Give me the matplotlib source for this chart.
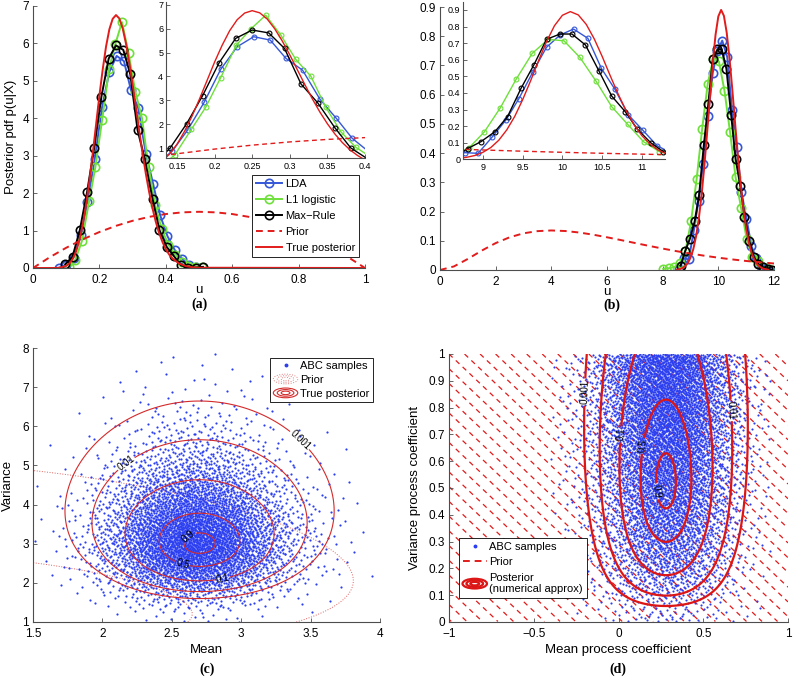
import numpy as np
import matplotlib
matplotlib.use("Agg")
import matplotlib.pyplot as plt
from matplotlib.lines import Line2D
from matplotlib.patches import Ellipse
from matplotlib.legend_handler import HandlerBase
from matplotlib.ticker import FuncFormatter, MultipleLocator

plt.rcParams['font.family'] = ['Liberation Sans', 'DejaVu Sans']
plt.rcParams['lines.dashed_pattern'] = [3.5, 2.5]

# ---------------- panel (a): posterior of u
a_lda_u = [0.079, 0.100, 0.122, 0.144, 0.164, 0.186, 0.208, 0.230, 0.252, 0.274, 0.295,
           0.317, 0.340, 0.362, 0.383, 0.405, 0.427, 0.449, 0.470, 0.492]
a_lda_p = [0.01, 0.08, 0.28, 0.89, 1.75, 2.91, 4.29, 5.24, 5.66, 5.52, 4.75,
           4.26, 3.05, 2.24, 1.41, 0.85, 0.48, 0.25, 0.07, 0.03]
a_l1_u = [0.107, 0.127, 0.147, 0.169, 0.188, 0.208, 0.229, 0.248, 0.268, 0.288, 0.308,
          0.328, 0.348, 0.368, 0.388, 0.408, 0.428, 0.448, 0.468, 0.488, 0.508]
a_l1_p = [0.02, 0.21, 0.71, 1.78, 2.70, 3.94, 5.31, 5.98, 6.56, 5.73, 4.71,
          4.01, 2.70, 1.68, 1.03, 0.62, 0.36, 0.17, 0.06, 0.04, 0.03]
a_max_u = [0.097, 0.119, 0.141, 0.163, 0.184, 0.206, 0.228, 0.250, 0.272, 0.293,
           0.315, 0.337, 0.360, 0.381, 0.403, 0.425, 0.446, 0.468, 0.490, 0.512]
a_max_p = [0.10, 0.30, 1.01, 2.03, 3.19, 4.57, 5.59, 5.94, 5.82, 5.17,
           3.68, 2.90, 1.85, 1.01, 0.56, 0.31, 0.07, 0.01, 0.01, 0.03]
a_prior_u = [0, 0.05, 0.1, 0.15, 0.2, 0.25, 0.3, 0.35, 0.4, 0.45, 0.5,
             0.55, 0.6, 0.65, 0.7, 0.75, 0.8, 0.85, 0.9, 0.95, 1.0]
a_prior_p = [0, 0.285, 0.54, 0.765, 0.96, 1.125, 1.26, 1.365, 1.44, 1.485, 1.5,
             1.485, 1.44, 1.365, 1.26, 1.125, 0.96, 0.765, 0.54, 0.285, 0]
a_true_u = [0, 0.06, 0.08, 0.10, 0.11, 0.12, 0.13, 0.14, 0.15, 0.16, 0.17, 0.18, 0.19,
            0.20, 0.21, 0.22, 0.23, 0.24, 0.25, 0.26, 0.27, 0.28, 0.29, 0.30, 0.31,
            0.32, 0.33, 0.34, 0.35, 0.36, 0.37, 0.38, 0.39, 0.40, 0.41, 0.42, 0.44,
            0.46, 0.48, 0.50, 1.0]
a_true_p = [0, 0.0004, 0.007, 0.056, 0.124, 0.246, 0.448, 0.748, 1.161, 1.70, 2.336,
            3.06, 3.83, 4.60, 5.30, 5.91, 6.37, 6.65, 6.75, 6.66, 6.40, 5.99, 5.48,
            4.90, 4.28, 3.66, 3.06, 2.51, 2.02, 1.59, 1.229, 0.93, 0.694, 0.505,
            0.361, 0.254, 0.119, 0.051, 0.020, 0.0075, 0]

# ---------------- panel (b)
b_lda_u = [8.60, 8.77, 8.94, 9.12, 9.29, 9.45, 9.63, 9.80, 9.97, 10.14, 10.32,
           10.49, 10.66, 10.83, 11.01, 11.19, 11.36, 11.53, 11.70, 11.87]
b_lda_p = [0.005, 0.04, 0.036, 0.136, 0.237, 0.363, 0.528, 0.675, 0.749, 0.785, 0.729,
           0.548, 0.422, 0.267, 0.176, 0.082, 0.04, 0.015, 0.005, 0.0]
b_l1_u = [8.02, 8.22, 8.42, 8.62, 8.82, 9.02, 9.22, 9.42, 9.62, 9.82, 10.02,
          10.22, 10.42, 10.62, 10.82, 11.02, 11.22, 11.42, 11.62, 11.82]
b_l1_p = [0.004, 0.006, 0.01, 0.025, 0.066, 0.166, 0.311, 0.484, 0.638, 0.723, 0.714,
          0.614, 0.473, 0.317, 0.211, 0.106, 0.046, 0.03, 0.01, 0.005]
b_max_u = [8.645, 8.81, 8.975, 9.15, 9.31, 9.48, 9.64, 9.80, 9.97, 10.12, 10.29,
           10.46, 10.62, 10.79, 10.94, 11.11, 11.27, 11.44, 11.60, 11.77, 11.93]
b_max_p = [0.015, 0.065, 0.106, 0.166, 0.257, 0.428, 0.568, 0.723, 0.755, 0.755, 0.689,
           0.532, 0.381, 0.287, 0.183, 0.10, 0.046, 0.02, 0.01, 0.005, 0.0]
b_prior_u = [0, 0.5, 1, 1.5, 2, 2.5, 3, 3.5, 4, 4.5, 5, 5.5, 6, 6.5, 7, 7.5, 8,
             8.5, 9, 9.5, 10, 10.5, 11, 11.5, 12]
b_prior_p = [0, 0.0122, 0.0379, 0.0664, 0.0920, 0.1119, 0.1255, 0.1330, 0.1353,
             0.1334, 0.1283, 0.1209, 0.1120, 0.1024, 0.0925, 0.0827, 0.0733, 0.0644,
             0.0562, 0.0488, 0.0421, 0.0362, 0.0309, 0.0263, 0.0223]
b_true_u = [8.5, 8.6, 8.7, 8.8, 8.9, 9.0, 9.1, 9.2, 9.3, 9.4, 9.5, 9.6, 9.7, 9.8, 9.9,
            10.0, 10.1, 10.2, 10.3, 10.4, 10.5, 10.6, 10.7, 10.8, 10.9, 11.0, 11.1,
            11.2, 11.3, 11.4, 11.5, 11.6, 11.7, 11.8]
b_true_p = [0.001, 0.003, 0.006, 0.0125, 0.023, 0.042, 0.071, 0.115, 0.177, 0.258,
            0.359, 0.473, 0.594, 0.709, 0.805, 0.868, 0.89, 0.870, 0.813, 0.726, 0.620,
            0.505, 0.394, 0.294, 0.209, 0.142, 0.093, 0.057, 0.034, 0.019, 0.011,
            0.005, 0.003, 0.001]

# ---------------- panel (c): ABC sample density (share per bin) + posterior/prior shape
c_mean_edges = [1.5, 1.75, 2.0, 2.25, 2.5, 2.75, 3.0, 3.25, 3.5, 3.75, 4.0]
c_mean_share = [0.002, 0.016, 0.075, 0.205, 0.30, 0.25, 0.11, 0.033, 0.008, 0.001]
c_var_edges = [1.0, 1.5, 2.0, 2.5, 3.0, 3.5, 4.0, 4.5, 5.0, 5.5, 6.0, 6.5, 7.0, 7.5, 8.0]
c_var_share = [0.006, 0.045, 0.135, 0.21, 0.21, 0.16, 0.105, 0.062, 0.033, 0.018,
               0.009, 0.004, 0.002, 0.001]
c_n = 5000
c_post = dict(m0=2.70, k=25.0, c=28.0, beta=84.0)      # normal-inverse-gamma shape
c_prior = dict(m0=0.0, k=1.0, c=8.835, beta=3.66)
c_post_levels = [0.001, 0.01, 0.1, 0.5, 0.9]
c_prior_levels = [-15.2, -10.5]

# ---------------- panel (d)
d_mean_edges = [-0.4, -0.3, -0.2, -0.1, 0.0, 0.1, 0.2, 0.3, 0.4, 0.5, 0.6, 0.7, 0.8, 0.9]
d_mean_share = [0.003, 0.010, 0.025, 0.055, 0.10, 0.155, 0.185, 0.18, 0.14, 0.085,
                0.042, 0.015, 0.005]
d_var_edges = [0.0, 0.1, 0.2, 0.3, 0.4, 0.5, 0.6, 0.7, 0.8, 0.9, 1.0]
d_var_share = [0.015, 0.04, 0.065, 0.085, 0.10, 0.115, 0.13, 0.145, 0.15, 0.155]
d_n = 6500
d_post = dict(x0=0.28, sx=0.127, sx_slope=0.03, y0=0.52, a=5.4)
d_post_levels = [0.001, 0.01, 0.1, 0.5, 0.9]
d_prior_slope = 0.6
d_prior_step = 0.055

RED = '#e21b1b'
BLUE = '#3557d8'
GREEN = '#6ee03a'
DOT = '#2b3ff0'


def fmt_g(v, pos):
    return f'{v:g}'.replace('-', '\u2212')


def style(ax, size=8.5, xpad=4, ypad=3):
    for s in ('top', 'right'):
        ax.spines[s].set_visible(False)
    for s in ('left', 'bottom'):
        ax.spines[s].set_color('0.3')
        ax.spines[s].set_linewidth(0.8)
    ax.tick_params(direction='in', length=3, width=0.6, color='0.3', labelsize=size)
    ax.tick_params(axis='x', pad=xpad)
    ax.tick_params(axis='y', pad=ypad)
    ax.xaxis.set_major_formatter(FuncFormatter(fmt_g))
    ax.yaxis.set_major_formatter(FuncFormatter(fmt_g))


def draw_curves(ax, lda, l1, mx, prior, true, ms, lw, mew):
    ax.plot(*lda, '-o', color=BLUE, ms=ms, mfc='none', mew=mew, lw=lw, label='LDA')
    ax.plot(*l1, '-o', color=GREEN, ms=ms, mfc='none', mew=mew, lw=lw, label='L1 logistic')
    ax.plot(*mx, '-o', color='k', ms=ms, mfc='none', mew=mew, lw=lw, label='Max\u2212Rule')
    ax.plot(*prior, '--', color=RED, lw=lw, label='Prior')
    ax.plot(*true, '-', color=RED, lw=lw, label='True posterior')


def halton(n, base):
    k = np.arange(1, n + 1)
    out = np.zeros(n)
    f = 1.0 / base
    while np.any(k):
        out += f * (k % base)
        k //= base
        f /= base
    return out


def inv_cdf(q, edges, share):
    # smooth (piecewise-linear) density through the bin shares, then invert its cdf
    edges = np.asarray(edges, float)
    dens = np.asarray(share, float) / np.diff(edges)
    centers = 0.5 * (edges[:-1] + edges[1:])
    fine = np.linspace(edges[0], edges[-1], 1000)
    d = np.interp(fine, np.r_[edges[0], centers, edges[-1]], np.r_[dens[0], dens, dens[-1]])
    cdf = np.concatenate([[0], np.cumsum(0.5 * (d[1:] + d[:-1]) * np.diff(fine))])
    return np.interp(q, cdf / cdf[-1], fine)


def spread(xe, xs, ye, ys, n):
    return inv_cdf(halton(n, 2), xe, xs), inv_cdf(halton(n, 3), ye, ys)


class Rings(HandlerBase):
    def create_artists(self, legend, orig, xd, yd, width, height, fontsize, trans):
        cx, cy = 0.5 * width - xd, 0.5 * height - yd
        out = []
        for f in (1.0, 0.68, 0.36):
            out.append(Ellipse((cx, cy), width * f, height * 1.25 * f, fill=False,
                               edgecolor=orig.get_edgecolor(), linewidth=orig.get_linewidth(),
                               linestyle=orig.get_linestyle(), transform=trans))
        return out


fig = plt.figure(figsize=(7.93, 6.78), dpi=100)
W, H = 793.0, 678.0


def box(l, t, r, b):
    return [l / W, 1 - b / H, (r - l) / W, (b - t) / H]


A = [(a_lda_u, a_lda_p), (a_l1_u, a_l1_p), (a_max_u, a_max_p), (a_prior_u, a_prior_p),
     (a_true_u, a_true_p)]
B = [(b_lda_u, b_lda_p), (b_l1_u, b_l1_p), (b_max_u, b_max_p), (b_prior_u, b_prior_p),
     (b_true_u, b_true_p)]

# ---- (a)
ax = fig.add_axes(box(33, 5.7, 365, 268))
draw_curves(ax, *A, ms=6, lw=1.4, mew=1.2)
ax.set_xlim(0, 1)
ax.set_ylim(0, 7)
style(ax)
ax.xaxis.set_major_locator(MultipleLocator(0.2))
ax.yaxis.set_major_locator(MultipleLocator(1))
ax.set_xlabel('u', fontsize=9.5, labelpad=-1)
ax.set_ylabel('Posterior pdf p(u|X)', fontsize=9.5, labelpad=4)
ax.legend(loc='lower right', bbox_to_anchor=(0.998, 0.02), fontsize=8, numpoints=1,
          handlelength=2.4, fancybox=False, edgecolor='k', framealpha=1,
          borderpad=0.35, labelspacing=0.55, handletextpad=0.3).get_frame().set_linewidth(0.6)

ins = fig.add_axes(box(166, 2.3, 365, 157.7))
draw_curves(ins, *A, ms=3.5, lw=1.0, mew=0.8)
ins.set_xlim(0.1354, 0.4)
ins.set_ylim(0.6, 7.1)
style(ins, 6.5, xpad=3, ypad=2)
ins.xaxis.set_major_locator(MultipleLocator(0.05))
ins.yaxis.set_major_locator(MultipleLocator(1))

# ---- (b)
ax = fig.add_axes(box(440, 7, 774, 270))
draw_curves(ax, *B, ms=6, lw=1.4, mew=1.2)
ax.set_xlim(0, 12)
ax.set_ylim(0, 0.9)
style(ax)
ax.xaxis.set_major_locator(MultipleLocator(2))
ax.yaxis.set_major_locator(MultipleLocator(0.1))
ax.set_xlabel('u', fontsize=9.5, labelpad=-1)

ins = fig.add_axes(box(463, 2, 665, 159.3))
draw_curves(ins, *B, ms=3.5, lw=1.0, mew=0.8)
ins.set_xlim(8.75, 11.29)
ins.set_ylim(0, 0.948)
style(ins, 6.5, xpad=3, ypad=2)
ins.xaxis.set_major_locator(MultipleLocator(0.5))
ins.yaxis.set_major_locator(MultipleLocator(0.1))

# ---- (c)
ax = fig.add_axes(box(33, 348, 380, 622))
mg, vg = np.meshgrid(np.linspace(1.5, 4, 400), np.linspace(1, 8, 400))
pr = c_prior
ax.contour(mg, vg, -(pr['c'] * np.log(vg) + (pr['beta'] + pr['k'] * (mg - pr['m0']) ** 2) / vg),
           levels=c_prior_levels, colors='#e06060', linewidths=0.7, linestyles=':', zorder=1)
sx, sy = spread(c_mean_edges, c_mean_share, c_var_edges, c_var_share, c_n)
ax.scatter(sx, sy, s=2.5, c=DOT, linewidths=0, zorder=2)
po = c_post
lp = -(po['c'] * np.log(vg) + (po['beta'] + po['k'] * (mg - po['m0']) ** 2) / vg)
cs = ax.contour(mg, vg, np.exp(lp - lp.max()), levels=c_post_levels, colors='#d42a2a',
                linewidths=0.8, zorder=3)
ax.clabel(cs, fmt=lambda v: f'{v:g}', fontsize=7, colors='k', inline_spacing=1)
ax.set_xlim(1.5, 4)
ax.set_ylim(1, 8)
style(ax)
ax.xaxis.set_major_locator(MultipleLocator(0.5))
ax.yaxis.set_major_locator(MultipleLocator(1))
ax.set_xlabel('Mean', fontsize=9.5, labelpad=3)
ax.set_ylabel('Variance', fontsize=9.5, labelpad=6)
h_pts = Line2D([], [], ls='none', marker='o', ms=1.8, color=DOT)
h_pri = Ellipse((0, 0), 1, 1, fill=False, edgecolor='#e08080', linewidth=0.7, linestyle=':')
h_post = Ellipse((0, 0), 1, 1, fill=False, edgecolor='#d42a2a', linewidth=0.8)
ax.legend([h_pts, h_pri, h_post], ['ABC samples', 'Prior', 'True posterior'],
          handler_map={h_pri: Rings(), h_post: Rings()}, loc='upper right',
          bbox_to_anchor=(0.995, 0.985), fontsize=8, handlelength=2.2, fancybox=False,
          edgecolor='k', framealpha=1, borderpad=0.3, labelspacing=0.35,
          handletextpad=0.2).get_frame().set_linewidth(0.6)

# ---- (d)
ax = fig.add_axes(box(449, 354, 788, 622))
xg, yg = np.meshgrid(np.linspace(-1, 1, 400), np.linspace(0.002, 1, 400))
ax.contour(xg, yg, yg + d_prior_slope * xg,
           levels=np.arange(-0.7, 1.7, d_prior_step), colors=RED, linewidths=0.9,
           linestyles=[(0, (4, 3.5))], zorder=1)
sx, sy = spread(d_mean_edges, d_mean_share, d_var_edges, d_var_share, d_n)
ax.scatter(sx, sy, s=2.4, c=DOT, linewidths=0, zorder=2)
p = d_post
sxy = p['sx'] + p['sx_slope'] * (yg - p['y0'])
t = yg / p['y0']
f = np.exp(-(xg - p['x0']) ** 2 / (2 * sxy ** 2) + p['a'] * (np.log(t) - t + 1))
cs = ax.contour(xg, yg, f, levels=d_post_levels, colors='#dc1515', linewidths=1.6, zorder=3)
ax.clabel(cs, fmt=lambda v: f'{v:g}', fontsize=7, colors='k', inline_spacing=1)
ax.set_xlim(-1, 1)
ax.set_ylim(0, 1)
style(ax)
ax.xaxis.set_major_locator(MultipleLocator(0.5))
ax.yaxis.set_major_locator(MultipleLocator(0.1))
ax.set_xlabel('Mean process coefficient', fontsize=9.5, labelpad=3)
ax.set_ylabel('Variance process coefficient', fontsize=9.5, labelpad=5)
h_pri = Line2D([], [], ls='--', color=RED, lw=1.4)
h_post = Ellipse((0, 0), 1, 1, fill=False, edgecolor='#dc1515', linewidth=1.6)
ax.legend([h_pts, h_pri, h_post], ['ABC samples', 'Prior', 'Posterior\n(numerical approx)'],
          handler_map={h_post: Rings()}, loc='lower left', bbox_to_anchor=(0.012, 0.068),
          fontsize=8, handlelength=2.2, fancybox=False, edgecolor='k', framealpha=1,
          borderpad=0.35, labelspacing=0.5, handletextpad=0.2).get_frame().set_linewidth(0.6)

for x, y, s in [(200, 304, '(a)'), (612, 305, '(b)'), (207, 669, '(c)'), (618, 669, '(d)')]:
    fig.text(x / W, 1 - y / H, s, ha='center', va='center', fontsize=10,
             fontweight='bold', family='Liberation Serif')

fig.savefig('out.png', dpi=100)
